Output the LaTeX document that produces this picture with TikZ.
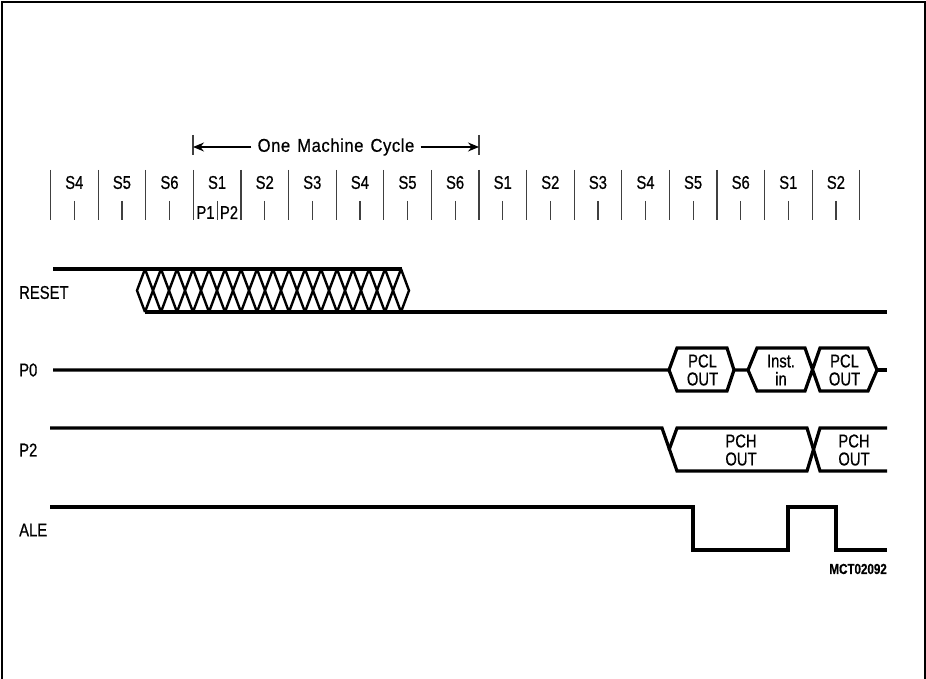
\documentclass[tikz,border=0pt]{standalone}
\usepackage{fontspec}
\setmainfont[FakeStretch=0.8,FakeBold=0.6]{Liberation Sans}
\newfontfamily\cyclefont[FakeStretch=0.9,FakeBold=0.6,LetterSpace=3]{Liberation Sans}
\usetikzlibrary{arrows.meta,positioning}
\definecolor{ink}{HTML}{000000}
\begin{document}
\begin{tikzpicture}[x=1pt, y=-1pt, >=Stealth, font=\fontsize{18.5}{19}\selectfont,
  sig/.style={draw=ink, line width=3.2pt, line join=miter},
  hatch/.style={draw=ink, line width=2.4pt},
  slotline/.style={draw=ink!75, line width=1.2pt},
  lab/.style={inner sep=0pt, text=ink, align=center},
  stack/.style={lab, font=\fontsize{18.5}{18}\selectfont},
  pin/.style={lab, anchor=west}]
  \useasboundingbox (0,0) rectangle (926,679);
  \draw[draw=ink, line width=1.8pt] (2,679) -- (2,2) -- (925,2) -- (925,679);

  \foreach \lab [count=\i from 0] in {S4,S5,S6,S1,S2,S3,S4,S5,S6,S1,S2,S3,S4,S5,S6,S1,S2} {
    \draw[slotline] ({50.5+47.6*\i},170) -- ({50.5+47.6*\i},220.5);
    \draw[slotline] ({74.3+47.6*\i},201) -- ({74.3+47.6*\i},220.5);
    \node[lab] (slot\i) at ({74.3+47.6*\i},182.5) {\lab};
  }
  \draw[slotline] (859.7,170) -- (859.7,220.5);
  \node[lab] (pone) at (205.5,212.5) {P1};
  \node[lab] (ptwo) at (229,212.5) {P2};

  \node[lab, font=\cyclefont\fontsize{18.5}{19}\selectfont] (cycle) at (336,147) {One\hspace{7pt}Machine\hspace{7pt}Cycle};
  \coordinate (cycstart) at (193,147);
  \coordinate (cycend) at (479,147);
  \draw[slotline] (193,135) -- (193,155);
  \draw[slotline] (479,135) -- (479,155);
  \draw[ink, line width=1.2pt, arrows={-Stealth[length=11pt,width=9pt]}] (cycle.west) ++(-6,0) -- (cycstart);
  \draw[ink, line width=1.2pt, arrows={-Stealth[length=11pt,width=9pt]}] (cycle.east) ++(6,0) -- (cycend);

  \node[pin] (reset) at (19,292.5) {RESET};
  \node[pin] (pzero) at (19,370) {P0};
  \node[pin] (ptwosig) at (19,450) {P2};
  \node[pin] (ale) at (19,530) {ALE};

  \draw[sig] (53,269) -- (402,269);
  \draw[sig] (145,312) -- (887,312);
  \foreach \k in {0,...,15} {
    \draw[hatch] ({145+16*\k},269) -- ({161+16*\k},312);
    \draw[hatch] ({145+16*\k},312) -- ({161+16*\k},269);
  }
  \draw[hatch] (145,269) -- (137,290.5) -- (145,312);
  \draw[hatch] (401,269) -- (409,290.5) -- (401,312);

  \draw[sig] (53,370) -- (669,370) -- (677,348) -- (727,348) -- (734,370) -- (727,391) -- (677,391) -- (669,370);
  \draw[sig] (734,370) -- (748,370) -- (757,348) -- (805,348) -- (820,391) -- (868,391) -- (877,370) -- (868,348) -- (820,348) -- (805,391) -- (757,391) -- (748,370);
  \draw[sig] (877,370) -- (887,370);
  \node[stack] (pclone) at (702.5,370) {PCL\\OUT};
  \node[stack] (instin) at (781,370) {Inst.\\in};
  \node[stack] (pcltwo) at (844.5,370) {PCL\\OUT};

  \draw[sig] (50,428) -- (662,428) -- (677,471) -- (807,471) -- (820,428) -- (887,428);
  \draw[sig] (669,450) -- (677,428) -- (807,428) -- (820,471) -- (887,471);
  \node[stack] (pchone) at (741,450) {PCH\\OUT};
  \node[stack] (pchtwo) at (854,450) {PCH\\OUT};

  \draw[sig] (50,507) -- (693,507) -- (693,550) -- (788,550) -- (788,507) -- (836,507) -- (836,550) -- (887,550);
  \node[lab, anchor=east, font=\fontsize{14.5}{15}\selectfont\bfseries] (mct) at (887,569) {MCT02092};
\end{tikzpicture}
\end{document}
